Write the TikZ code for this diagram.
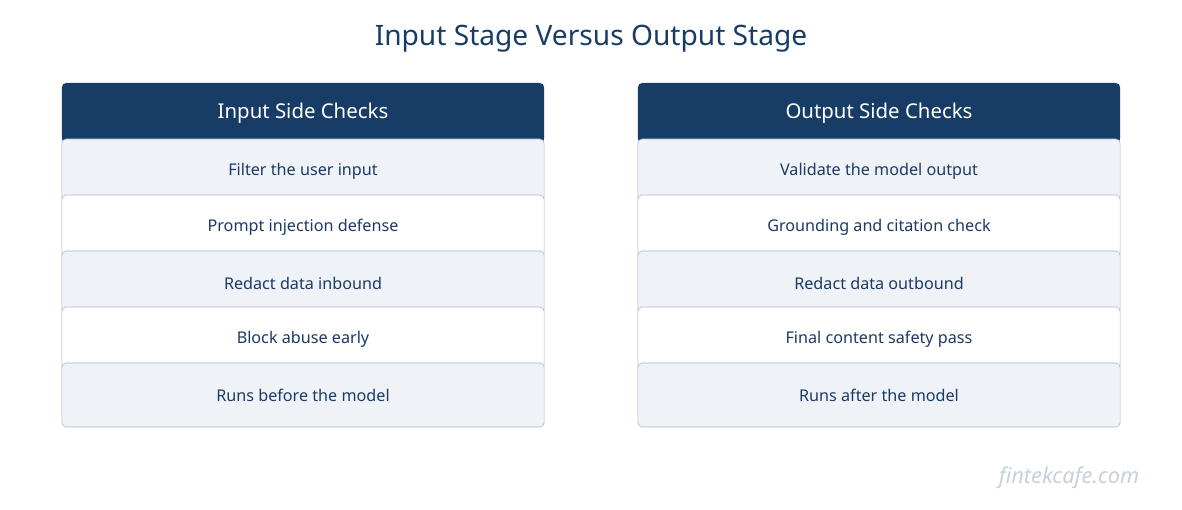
\documentclass[tikz,border=0pt]{standalone}
\usepackage{fontspec}
\setmainfont{Noto Sans}
\definecolor{navy}{HTML}{173C66}
\definecolor{rowtext}{HTML}{1B3A66}
\definecolor{rowfill}{HTML}{EFF3F8}
\definecolor{rowline}{HTML}{A8B4C8}
\definecolor{mark}{HTML}{C8D0DC}
\begin{document}
\begin{tikzpicture}[x=0.025cm,y=-0.025cm,
  head/.style={rectangle,rounded corners=3pt,fill=navy,text=white,
    font=\bfseries\fontsize{14.5}{17}\selectfont,minimum width=12.05cm,minimum height=1.5cm},
  row/.style={rectangle,rounded corners=3pt,draw=rowline,text=rowtext,
    font=\fontsize{11.5}{14}\selectfont,minimum width=12.05cm,minimum height=1.6cm}]
  \useasboundingbox (0,0) rectangle (1182,510);

  \node[font=\bfseries\fontsize{20}{24}\selectfont,text=navy] (title) at (591,39) {Input Stage Versus Output Stage};

  % left column
  \node[head] (inhead) at (303,113) {Input Side Checks};
  \foreach \txt [count=\i] in {Filter the user input,Prompt injection defense,Redact data inbound,Block abuse early,Runs before the model}{
    \pgfmathsetmacro{\shade}{mod(\i,2)==1 ? 1 : 0}
    \ifdim\shade pt=1pt
      \node[row,fill=rowfill] (in\i) at (303,115+56*\i) {\txt};
    \else
      \node[row,fill=white] (in\i) at (303,115+56*\i) {\txt};
    \fi
  }

  % right column
  \node[head] (outhead) at (879,113) {Output Side Checks};
  \foreach \txt [count=\i] in {Validate the model output,Grounding and citation check,Redact data outbound,Final content safety pass,Runs after the model}{
    \pgfmathsetmacro{\shade}{mod(\i,2)==1 ? 1 : 0}
    \ifdim\shade pt=1pt
      \node[row,fill=rowfill] (out\i) at (879,115+56*\i) {\txt};
    \else
      \node[row,fill=white] (out\i) at (879,115+56*\i) {\txt};
    \fi
  }

  \node[font=\itshape\fontsize{15.5}{18}\selectfont,text=mark] (wm) at (1069,478) {fintekcafe.com};
\end{tikzpicture}
\end{document}
